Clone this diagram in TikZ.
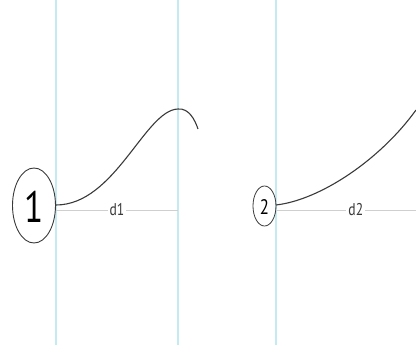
\documentclass[tikz,border=0pt]{standalone}
\usepackage{fontspec}
\setmainfont{PT Sans}
\definecolor{guide}{HTML}{C4EAF2}
\definecolor{curve}{HTML}{3A3A3A}
\definecolor{dimln}{HTML}{CFCFCF}
\begin{document}
\begin{tikzpicture}[x=1pt,y=-1pt,
  guideline/.style={draw=guide,line width=1.3pt},
  curveline/.style={draw=curve,line width=1.1pt},
  dimline/.style={draw=dimln,line width=0.8pt},
  dimlabel/.style={fill=white,inner sep=2pt,text=curve,font=\fontsize{17}{17}\selectfont}]
\useasboundingbox (0,0) rectangle (416,345);
% guide lines
\draw[guideline] (56,0) -- (56,345);
\draw[guideline] (178,0) -- (178,345);
\draw[guideline] (276,0) -- (276,345);
% node 1
\draw[draw=curve,line width=0.9pt] (34,205.5) ellipse [x radius=21.5, y radius=37.5];
\node[text=black,font=\fontsize{44}{44}\selectfont] (n1) at (34,207) {\scalebox{0.8}[1]{1}};
\coordinate (a1) at (56,210);
\coordinate (b1) at (178,210);
\draw[dimline] (a1) -- node[dimlabel] (d1) {\scalebox{0.8}[1]{d1}} (b1);
\coordinate (s1) at (56,205);
\coordinate (p1) at (178,109);
\coordinate (e1) at (198,129);
\draw[curveline] (s1) .. controls (115,205) and (145,110) .. (p1) .. controls (189,108) and (195,120) .. (e1);
% node 2
\draw[draw=curve,line width=0.8pt] (264.5,206) ellipse [x radius=11.5, y radius=20];
\node[text=black,font=\fontsize{21}{21}\selectfont] (n2) at (264.5,207) {\scalebox{0.8}[1]{2}};
\coordinate (a2) at (276,210);
\coordinate (b2) at (416,210);
\draw[dimline] (a2) -- node[dimlabel,pos=0.57] (d2) {\scalebox{0.8}[1]{d2}} (b2);
\coordinate (s2) at (276,205);
\coordinate (e2) at (416,110);
\draw[curveline] (s2) .. controls (320,200) and (380,160) .. (e2);
\end{tikzpicture}
\end{document}
